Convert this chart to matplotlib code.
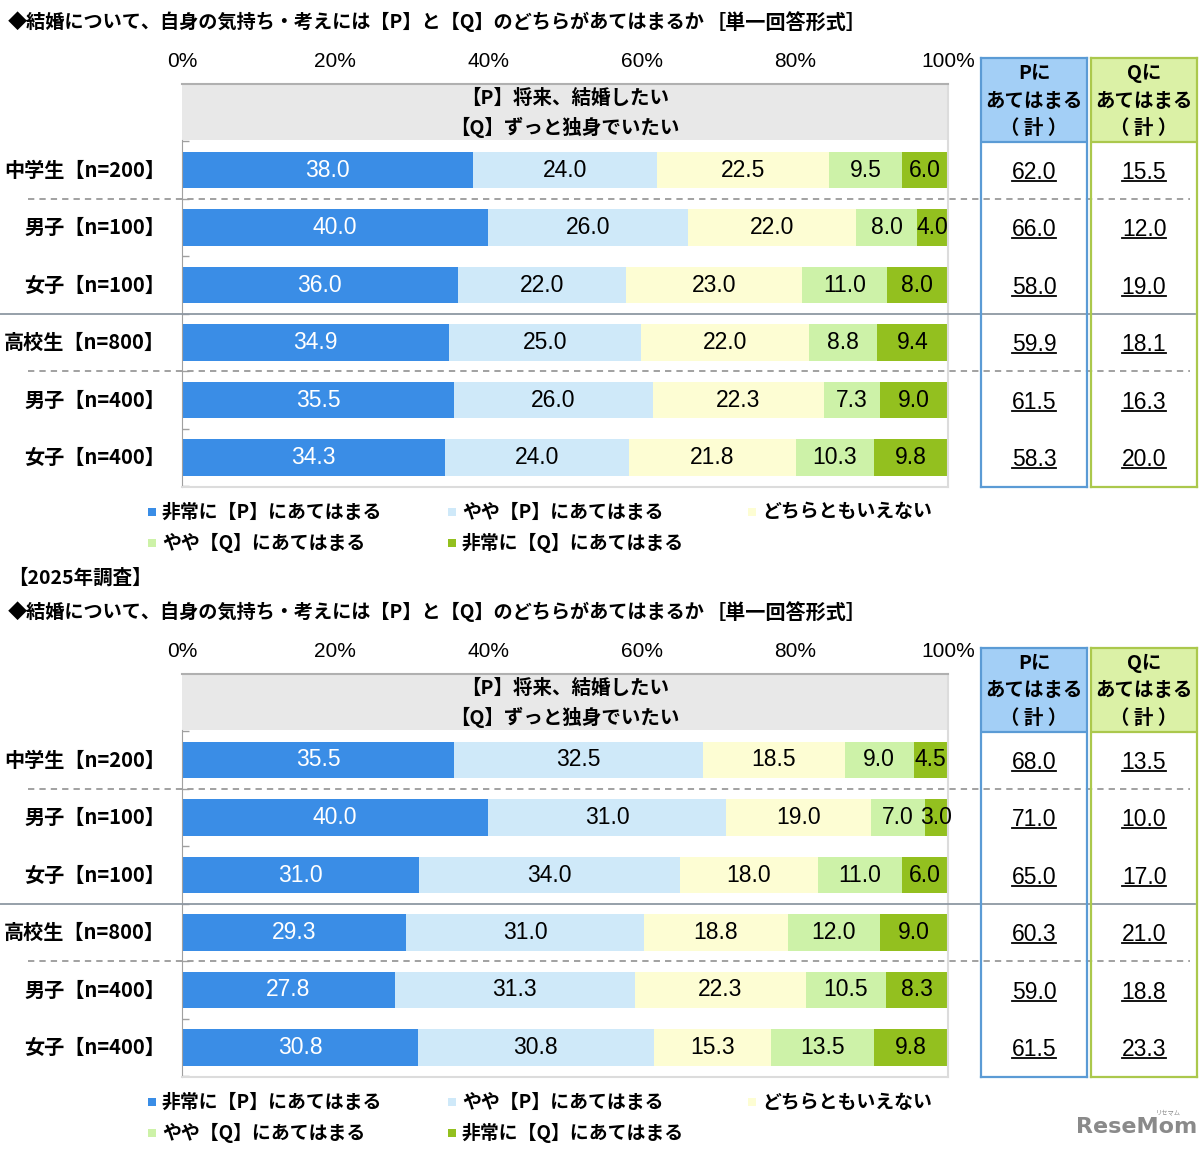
import matplotlib
matplotlib.use('Agg')
import matplotlib.pyplot as plt
from matplotlib.patches import Rectangle
from matplotlib.lines import Line2D
import matplotlib.transforms as mtrans

W, H = 1200, 1149
JP = ['Noto Sans CJK JP', 'DejaVu Sans']
NUM = ['Liberation Sans', 'DejaVu Sans']

# ---------------- data ----------------
title = "◆結婚について、自身の気持ち・考えには【P】と【Q】のどちらがあてはまるか"
title_tag = "［単一回答形式］"
survey2_label = "【2025年調査】"
header_lines = ["【P】将来、結婚したい", "【Q】ずっと独身でいたい"]
row_labels = ["中学生【n=200】", "男子【n=100】", "女子【n=100】",
              "高校生【n=800】", "男子【n=400】", "女子【n=400】"]
categories = ["非常に【P】にあてはまる", "やや【P】にあてはまる", "どちらともいえない",
              "やや【Q】にあてはまる", "非常に【Q】にあてはまる"]
col_header_p = ["Pに", "あてはまる", "（ 計 ）"]
col_header_q = ["Qに", "あてはまる", "（ 計 ）"]
xticks = [0, 20, 40, 60, 80, 100]
xtick_labels = ["0%", "20%", "40%", "60%", "80%", "100%"]

# panel 1 (previous survey)
a_very_p = [38.0, 40.0, 36.0, 34.9, 35.5, 34.3]
a_some_p = [24.0, 26.0, 22.0, 25.0, 26.0, 24.0]
a_neither = [22.5, 22.0, 23.0, 22.0, 22.3, 21.8]
a_some_q = [9.5, 8.0, 11.0, 8.8, 7.3, 10.3]
a_very_q = [6.0, 4.0, 8.0, 9.4, 9.0, 9.8]
a_total_p = [62.0, 66.0, 58.0, 59.9, 61.5, 58.3]
a_total_q = [15.5, 12.0, 19.0, 18.1, 16.3, 20.0]

# panel 2 (2025 survey)
b_very_p = [35.5, 40.0, 31.0, 29.3, 27.8, 30.8]
b_some_p = [32.5, 31.0, 34.0, 31.0, 31.3, 30.8]
b_neither = [18.5, 19.0, 18.0, 18.8, 22.3, 15.3]
b_some_q = [9.0, 7.0, 11.0, 12.0, 10.5, 13.5]
b_very_q = [4.5, 3.0, 6.0, 9.0, 8.3, 9.8]
b_total_p = [68.0, 71.0, 65.0, 60.3, 59.0, 61.5]
b_total_q = [13.5, 10.0, 17.0, 21.0, 18.8, 23.3]

colors = ['#3a8de6', '#cfe9f9', '#fdfdd3', '#cdf2a8', '#93c01f']
text_colors = ['white', 'black', 'black', 'black', 'black']

# ---------------- layout helpers ----------------
fig = plt.figure(figsize=(W / 100, H / 100), dpi=100)
fig.patch.set_facecolor('white')

ROW0 = 170.0   # pixel y of first row center (panel 1)
STEP = 57.5    # pixel spacing between rows


def rect(x0, y0, x1, y1):
    return [x0 / W, 1 - y1 / H, (x1 - x0) / W, (y1 - y0) / H]


def prow(ypix):
    """convert a pixel y (panel-relative) to row units"""
    return (ypix - ROW0) / STEP


underline_texts = []


def draw_panel(dy, series, tot_p, tot_q, label=None):
    if label:
        fig.text(8 / W, 1 - 578 / H, label, fontsize=14, fontweight='bold',
                 family=JP, ha='left', va='center')
    ty = 22 + dy
    fig.text(8 / W, 1 - ty / H, title, fontsize=13.8, fontweight='bold',
             family=JP, ha='left', va='center')
    fig.text(706 / W, 1 - ty / H, title_tag, fontsize=14.5, fontweight='bold',
             family=JP, ha='left', va='center')

    top = prow(84)
    bot = prow(487)
    ax = fig.add_axes(rect(182, 84 + dy, 948, 487 + dy))
    ax.set_xlim(0, 100)
    ax.set_ylim(bot, top)
    ax.set_facecolor('white')

    n = len(row_labels)
    ys = list(range(n))
    left = [0.0] * n
    for k, vals in enumerate(series):
        cont = ax.barh(ys, vals, left=left, height=0.63, color=colors[k],
                       edgecolor='none', zorder=2)
        ax.bar_label(cont, labels=[f"{v:.1f}" for v in vals], label_type='center',
                     color=text_colors[k], fontsize=16.5, family=NUM, zorder=5)
        left = [l + v for l, v in zip(left, vals)]

    # header band
    hb = prow(140)
    ax.add_patch(Rectangle((0, top), 100, hb - top, facecolor='#e8e8e8',
                           edgecolor='none', zorder=1))
    ax.text(50, prow(98), header_lines[0], ha='center', va='center',
            fontsize=14, fontweight='bold', family=JP, zorder=3)
    ax.text(50, prow(127), header_lines[1], ha='center', va='center',
            fontsize=14, fontweight='bold', family=JP, zorder=3)

    # x ticks on top
    ax.set_xticks(xticks)
    ax.set_xticklabels(xtick_labels, family=NUM, fontsize=15)
    ax.tick_params(axis='x', top=True, labeltop=True, bottom=False,
                   labelbottom=False, length=0, pad=9.5)
    ax.set_yticks([i - 0.5 for i in range(n + 1)])
    ax.set_yticklabels([])
    ax.tick_params(axis='y', direction='in', length=5, color='#a0a0a0', width=1)

    for s in ['right', 'bottom']:
        ax.spines[s].set_color('#dcdcdc')
        ax.spines[s].set_linewidth(1.5)
    ax.spines['top'].set_color('#b0b0b0')
    ax.spines['top'].set_linewidth(1.5)
    ax.spines['left'].set_color('#a0a0a0')
    ax.spines['left'].set_bounds(hb, bot)

    # row labels
    blend = mtrans.blended_transform_factory(fig.transFigure, ax.transData)
    for i, lab in enumerate(row_labels):
        ax.text(165 / W, i, lab, transform=blend, ha='right', va='center',
                fontsize=14.5, fontweight='bold', family=JP)

    # separators
    for yy in [0.5, 3.5]:
        ax.add_line(Line2D([28 / W, 1190 / W], [yy, yy], transform=blend,
                           color='#9a9a9a', lw=1.3, dashes=(3.5, 2.8),
                           clip_on=False, zorder=6))
    ax.add_line(Line2D([0, 1195 / W], [2.5, 2.5], transform=blend,
                       color='#8e98a3', lw=1.3, clip_on=False, zorder=6))

    # total columns
    ctop = prow(58)
    chb = prow(142)
    for (x0, x1, fill, edge, hdr, tots) in [
            (981, 1087, '#a3cff6', '#5b9bd5', col_header_p, tot_p),
            (1091, 1197, '#dbf1a6', '#abc84c', col_header_q, tot_q)]:
        cx = fig.add_axes(rect(x0, 58 + dy, x1, 487 + dy))
        cx.set_facecolor('none')
        cx.set_xlim(0, 1)
        cx.set_ylim(bot, ctop)
        cx.set_xticks([])
        cx.set_yticks([])
        for s in cx.spines.values():
            s.set_color(edge)
            s.set_linewidth(1.6)
        cx.add_patch(Rectangle((0, ctop), 1, chb - ctop, facecolor=fill,
                               edgecolor='none', zorder=1))
        cx.axhline(chb, color=edge, lw=1.6, zorder=2)
        for line, yp in zip(hdr, [73, 101, 128]):
            cx.text(0.5, prow(yp), line, ha='center', va='center',
                    fontsize=14, fontweight='bold', family=JP, zorder=3)
        for i, v in enumerate(tots):
            t = cx.text(0.5, i + 0.04, f"{v:.1f}", ha='center', va='center',
                        fontsize=16.5, family=NUM, zorder=3)
            underline_texts.append(t)

    # legend
    pos = [(152, 512), (452, 512), (752, 512), (152, 543), (452, 543)]
    for (lx, ly), cat, col in zip(pos, categories, colors):
        yy = ly + dy
        fig.add_artist(Rectangle(((lx - 4) / W, 1 - (yy + 4) / H), 8 / W, 8 / H,
                                 transform=fig.transFigure, facecolor=col,
                                 edgecolor='none'))
        fig.text((lx + 10) / W, 1 - yy / H, cat, ha='left', va='center',
                 fontsize=13.6, fontweight='bold', family=JP)


draw_panel(0, [a_very_p, a_some_p, a_neither, a_some_q, a_very_q],
           a_total_p, a_total_q)
draw_panel(590, [b_very_p, b_some_p, b_neither, b_some_q, b_very_q],
           b_total_p, b_total_q, label=survey2_label)

# watermark
fig.text(1137 / W, 1 - 1127 / H, "ReseMom", ha='center', va='center',
         fontsize=16, fontweight='bold', color='#8a8a8a', family=['DejaVu Sans'])
fig.text(1168 / W, 1 - 1112 / H, "リセマム", ha='center', va='center',
         fontsize=4.5, color='#8a8a8a', family=JP)

# underline totals
fig.canvas.draw()
r = fig.canvas.get_renderer()
for t in underline_texts:
    bb = t.get_window_extent(r)
    yline = bb.y0 + 3.0
    fig.add_artist(Line2D([bb.x0 / W, bb.x1 / W], [yline / H, yline / H],
                          transform=fig.transFigure, color='black', lw=1.3))

fig.savefig('out.png', dpi=100, facecolor='white')
